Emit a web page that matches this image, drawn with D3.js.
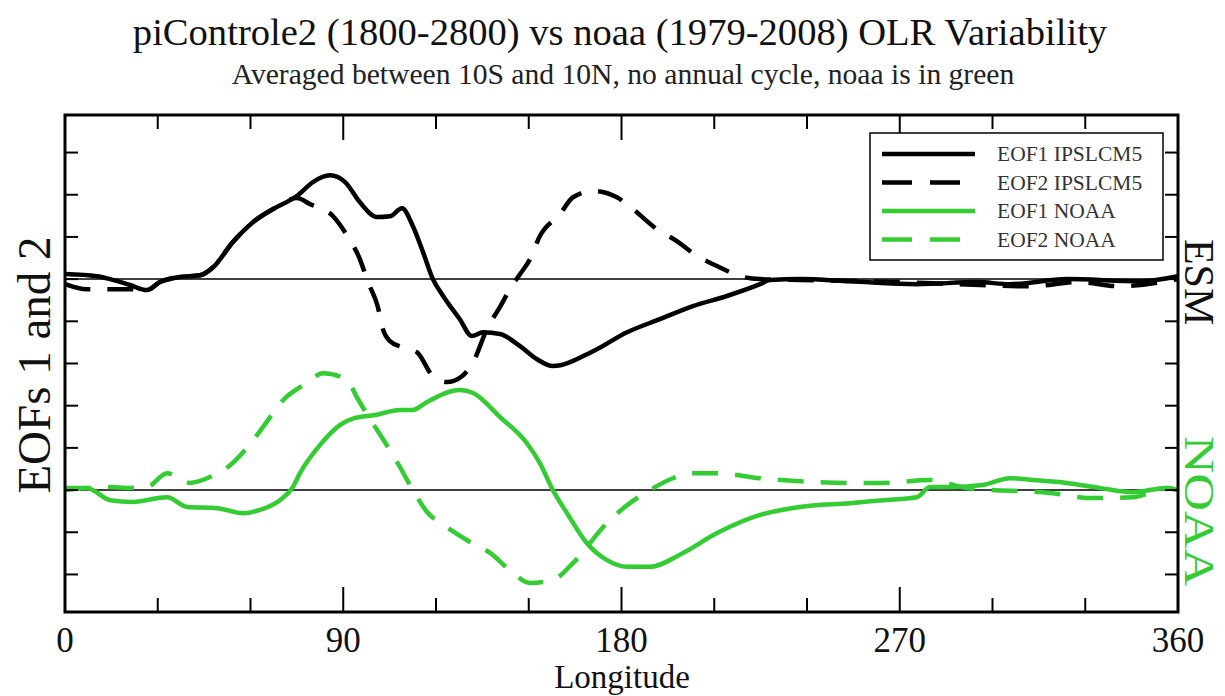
<!DOCTYPE html>
<html>
<head>
<meta charset="utf-8">
<script src="https://cdn.jsdelivr.net/npm/d3@7"></script>
<style>
  body { margin: 0; background: #fff; }
</style>
</head>
<body>
<script>
const width = 1225,
    height = 696;

const margin = {left: 65, right: 47, top: 115, bottom: 84};

const serif = '"Liberation Serif", "Times New Roman", Times, "DejaVu Serif", serif';

// EOF curves, [longitude, value] in y-tick units
const esmEof1 = [[0,0.12],[10.3,0.07],[14.6,0],[21,-0.14],[26.5,-0.26],[30.7,-0.07],[37,0.05],[43.7,0.09],
    [47.9,0.28],[54.3,0.88],[60.8,1.35],[67.3,1.66],[75,1.97],[80.2,2.30],[85.7,2.46],[90.6,2.30],[95.4,1.82],
    [100.9,1.47],[105.1,1.49],[109,1.68],[112.5,1.26],[115.8,0.64],[119,0],[122.3,-0.40],[127.7,-0.95],
    [131.6,-1.35],[135.2,-1.26],[140.7,-1.30],[147.2,-1.59],[152.7,-1.90],[157.8,-2.06],[170.8,-1.71],
    [181.8,-1.26],[192.4,-0.95],[203.1,-0.64],[214.1,-0.40],[224.8,-0.12],[228,-0.02],[237.7,0],[253.9,-0.05],
    [275.5,-0.12],[295,-0.07],[305.6,-0.12],[324,0],[347.7,-0.05],[360,0.07]];

const esmEof2 = [[0,-0.12],[7.1,-0.24],[13.6,-0.24],[21,-0.24],[26.5,-0.26],[30.7,-0.07],[37,0.05],[43.7,0.09],
    [47.9,0.28],[54.3,0.88],[60.8,1.35],[67.3,1.66],[75,1.92],[79.2,1.78],[86.7,1.49],[91.5,1.00],[95.4,0.47],
    [98,-0.07],[101.2,-0.66],[102.8,-1.18],[105.1,-1.47],[109,-1.61],[113.8,-1.73],[119,-2.30],[123.5,-2.44],
    [128.4,-2.30],[132,-1.97],[136.5,-1.18],[140.7,-0.66],[143.9,-0.24],[147.2,0.12],[150.4,0.47],[153.6,1.02],
    [160.1,1.54],[164.3,1.94],[170.8,2.09],[178.5,1.94],[183.7,1.66],[191.5,1.18],[197.9,0.90],[204.4,0.55],
    [210.9,0.31],[218.3,0.07],[224.8,0],[237.7,-0.02],[270,-0.07],[296,-0.14],[312,-0.17],[328,-0.07],
    [341,-0.17],[360,0]];

const noaaEof1 = [[0,0],[7.1,0.05],[14.6,-0.24],[22,-0.28],[33,-0.17],[39.5,-0.40],[49.2,-0.43],[57.6,-0.55],
    [63.1,-0.47],[69.5,-0.24],[73.7,0.07],[76,0.40],[82.5,1.07],[88.9,1.54],[93.8,1.71],[100.3,1.78],
    [108.3,1.90],[112.5,1.90],[117.1,2.09],[127.7,2.37],[132,2.30],[140.7,1.73],[149.4,1.11],[153.6,0.64],
    [157.8,0],[162.4,-0.55],[168.8,-1.26],[175.3,-1.66],[181.8,-1.82],[189.2,-1.82],[199.9,-1.49],
    [210.9,-1.02],[224.8,-0.59],[237.7,-0.40],[253.9,-0.31],[264.6,-0.24],[275.5,-0.17],[279.8,0.07],
    [286.2,0.07],[296.9,0.12],[305.6,0.28],[313.1,0.24],[324,0.17],[334.7,0.05],[345.4,-0.05],[356.4,0.05],[360,0]];

const noaaEof2 = [[0,0.05],[7.1,0.05],[14.6,0.07],[20.1,0.05],[26.5,0.07],[33,0.40],[40.4,0.17],[46.9,0.31],
    [53.4,0.59],[60.8,1.18],[64,1.49],[70.5,2.13],[78.3,2.54],[83.4,2.77],[91.2,2.61],[94.4,2.20],[108.3,0.55],
    [112.5,0],[117.1,-0.52],[123.5,-0.88],[131,-1.23],[137.5,-1.49],[143.9,-1.90],[150.4,-2.20],[157.8,-2.13],
    [164.3,-1.73],[175.3,-0.78],[182.7,-0.31],[189.2,0],[196.6,0.28],[203.1,0.40],[210.9,0.40],[224.8,0.28],
    [237.7,0.21],[253.9,0.17],[264.6,0.17],[279.8,0.24],[291.7,0.05],[318.6,-0.07],[332.5,-0.19],
    [345.4,-0.17],[356.4,0.05],[360,0]];

// baselines of the two groups (tick units)
const esmBase = 2,
    noaaBase = -3;

const xTicks = [0, 90, 180, 270, 360];
const xMinorTicks = d3.range(0, 361, 30);
const yTicks = d3.range(-5, 6, 1);

const legendLabels = ['EOF1 IPSLCM5', 'EOF2 IPSLCM5', 'EOF1 NOAA', 'EOF2 NOAA'];

const green = '#33cc33';

const series = [
    {data: esmEof1, base: esmBase, color: '#000', dash: null},
    {data: esmEof2, base: esmBase, color: '#000', dash: '26,17'},
    {data: noaaEof1, base: noaaBase, color: green, dash: null},
    {data: noaaEof2, base: noaaBase, color: green, dash: '26,17'}
];

const x = d3.scaleLinear()
    .domain([0, 360])
    .range([margin.left, width - margin.right]);

const y = d3.scaleLinear()
    .domain([-5.89, 5.89])
    .range([height - margin.bottom, margin.top]);

const svg = d3.select('body')
    .append('svg')
    .attr('width', width)
    .attr('height', height)
    .attr('font-family', serif);

svg.append('defs')
    .append('clipPath')
    .attr('id', 'plotClip')
    .append('rect')
    .attr('x', x(0))
    .attr('y', y(5.89))
    .attr('width', x(360) - x(0))
    .attr('height', y(-5.89) - y(5.89));

// titles
svg.append('text')
    .attr('x', 620)
    .attr('y', 45)
    .attr('text-anchor', 'middle')
    .attr('font-family', serif)
    .attr('font-size', 38.6)
    .attr('fill', '#111')
    .text('piControle2 (1800-2800) vs noaa (1979-2008) OLR Variability');

svg.append('text')
    .attr('x', 623)
    .attr('y', 84)
    .attr('text-anchor', 'middle')
    .attr('font-family', serif)
    .attr('font-size', 29.6)
    .attr('fill', '#222')
    .text('Averaged between 10S and 10N, no annual cycle, noaa is in green');

// zero lines for each group
svg.selectAll('line.zero')
    .data([esmBase, noaaBase])
    .enter()
    .append('line')
    .attr('class', 'zero')
    .attr('x1', x(0))
    .attr('x2', x(360))
    .attr('y1', d => y(d))
    .attr('y2', d => y(d))
    .attr('stroke', '#000')
    .attr('stroke-width', 1.5);

const line = d3.line()
    .x(d => x(d[0]))
    .curve(d3.curveMonotoneX);

svg.append('g')
    .attr('clip-path', 'url(#plotClip)')
    .selectAll('path')
    .data(series)
    .enter()
    .append('path')
    .attr('d', s => line.y(d => y(d[1] + s.base))(s.data))
    .attr('fill', 'none')
    .attr('stroke', s => s.color)
    .attr('stroke-width', 4.5)
    .attr('stroke-linejoin', 'round')
    .attr('stroke-dasharray', s => s.dash);

// ticks, all pointing inward
const tickG = svg.append('g').attr('stroke', '#000').attr('stroke-width', 2);

xMinorTicks.forEach(t => {
    const len = t % 90 === 0 ? 25 : 14;
    tickG.append('line')
        .attr('x1', x(t)).attr('x2', x(t))
        .attr('y1', y(-5.89)).attr('y2', y(-5.89) - len);
    tickG.append('line')
        .attr('x1', x(t)).attr('x2', x(t))
        .attr('y1', y(5.89)).attr('y2', y(5.89) + len);
});

yTicks.forEach(t => {
    tickG.append('line')
        .attr('x1', x(0)).attr('x2', x(0) + 13)
        .attr('y1', y(t)).attr('y2', y(t));
    tickG.append('line')
        .attr('x1', x(360)).attr('x2', x(360) - 13)
        .attr('y1', y(t)).attr('y2', y(t));
});

// frame
svg.append('rect')
    .attr('x', x(0))
    .attr('y', y(5.89))
    .attr('width', x(360) - x(0))
    .attr('height', y(-5.89) - y(5.89))
    .attr('fill', 'none')
    .attr('stroke', '#000')
    .attr('stroke-width', 3);

// x tick labels
svg.selectAll('text.xlab')
    .data(xTicks)
    .enter()
    .append('text')
    .attr('class', 'xlab')
    .attr('x', d => x(d))
    .attr('y', 652)
    .attr('text-anchor', 'middle')
    .attr('font-family', serif)
    .attr('font-size', 35)
    .attr('fill', '#111')
    .text(d => d);

svg.append('text')
    .attr('x', 622)
    .attr('y', 688)
    .attr('text-anchor', 'middle')
    .attr('font-family', serif)
    .attr('font-size', 33)
    .attr('fill', '#111')
    .text('Longitude');

svg.append('text')
    .attr('transform', 'translate(50,365) rotate(-90)')
    .attr('text-anchor', 'middle')
    .attr('font-family', serif)
    .attr('font-size', 47)
    .attr('fill', '#111')
    .text('EOFs 1 and 2');

// group labels on the right, kept inside the page
svg.append('text')
    .attr('transform', `translate(1185,${y(esmBase) + 3}) rotate(90)`)
    .attr('text-anchor', 'middle')
    .attr('font-family', serif)
    .attr('font-size', 42)
    .attr('fill', '#111')
    .text('ESM');

svg.append('text')
    .attr('transform', `translate(1185,${y(noaaBase) + 21}) rotate(90)`)
    .attr('text-anchor', 'middle')
    .attr('font-family', serif)
    .attr('font-size', 42)
    .attr('textLength', 150)
    .attr('lengthAdjust', 'spacingAndGlyphs')
    .attr('fill', green)
    .text('NOAA');

// legend
const legend = svg.append('g').attr('transform', 'translate(870,133)');

legend.append('rect')
    .attr('width', 293)
    .attr('height', 127)
    .attr('fill', '#fff')
    .attr('stroke', '#000')
    .attr('stroke-width', 1.5);

const row = legend.selectAll('g.row')
    .data(series)
    .enter()
    .append('g')
    .attr('class', 'row')
    .attr('transform', (_, i) => `translate(0,${21 + i * 28.5})`);

row.append('line')
    .attr('x1', 12)
    .attr('x2', 105)
    .attr('stroke', s => s.color)
    .attr('stroke-width', 4.5)
    .attr('stroke-dasharray', s => (s.dash ? '30,18' : null));

row.append('text')
    .attr('x', 127)
    .attr('y', 7)
    .attr('font-family', serif)
    .attr('font-size', 21.5)
    .attr('fill', '#333')
    .text((_, i) => legendLabels[i]);
</script>
</body>
</html>
